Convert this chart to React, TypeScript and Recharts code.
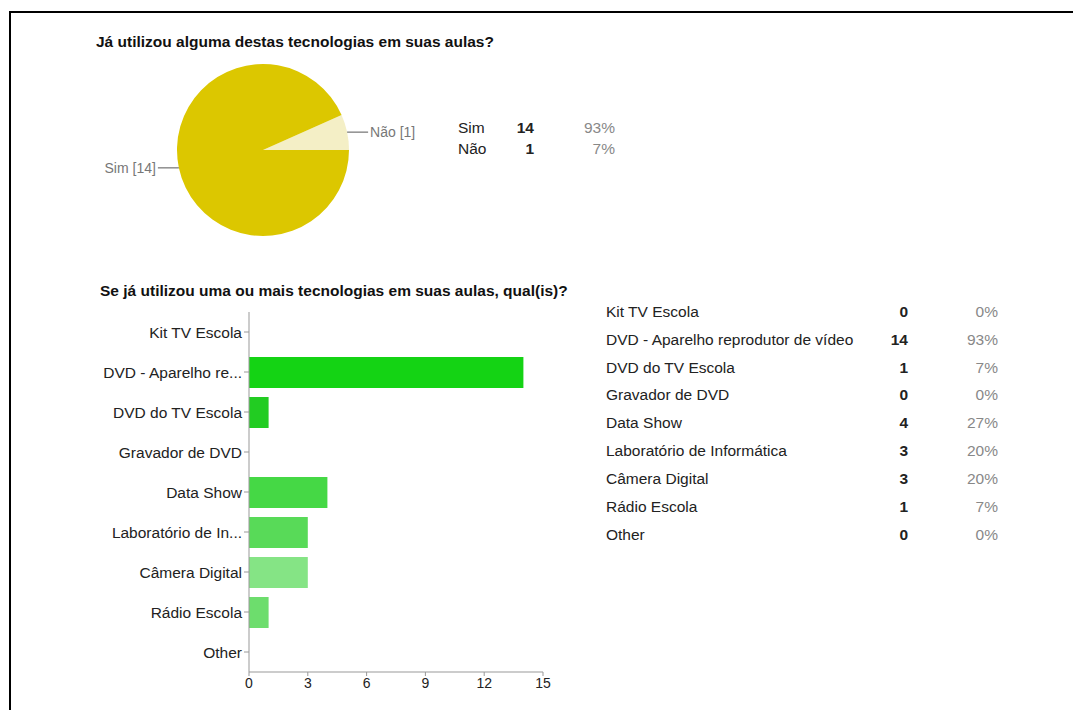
import React from 'react'
import { PieChart, Pie, Cell, BarChart, Bar, XAxis, YAxis } from 'recharts'

const FONT = "Arial, 'Liberation Sans', sans-serif"

// first question (pie)
const PIE_NAMES = ['Não', 'Sim']
const PIE_VALUES = [1, 14]
const PIE_COLORS = ['#f4efc6', '#dcc700']
const PIE_LEGEND_ORDER = [1, 0]

// second question (bars + table)
const TECH_NAMES = [
  'Kit TV Escola',
  'DVD - Aparelho reprodutor de vídeo',
  'DVD do TV Escola',
  'Gravador de DVD',
  'Data Show',
  'Laboratório de Informática',
  'Câmera Digital',
  'Rádio Escola',
  'Other',
]
const TECH_AXIS_LABELS = [
  'Kit TV Escola',
  'DVD - Aparelho re...',
  'DVD do TV Escola',
  'Gravador de DVD',
  'Data Show',
  'Laboratório de In...',
  'Câmera Digital',
  'Rádio Escola',
  'Other',
]
const TECH_VALUES = [0, 14, 1, 0, 4, 3, 3, 1, 0]
const TECH_COLORS = ['#0fd10f', '#14d314', '#22cc22', '#33d233', '#45d845', '#58da58', '#85e485', '#6ddd6d', '#7fe07f']
const X_TICKS = [0, 3, 6, 9, 12, 15]

const RESPONDENTS = PIE_VALUES.reduce((s, v) => s + v, 0)
const pct = (v: number) => `${Math.round((v / RESPONDENTS) * 100)}%`

const pieData = PIE_NAMES.map((name, i) => ({ name, value: PIE_VALUES[i], color: PIE_COLORS[i] }))
const barData = TECH_NAMES.map((name, i) => ({
  name,
  label: TECH_AXIS_LABELS[i],
  value: TECH_VALUES[i],
  color: TECH_COLORS[i],
}))

const RAD = Math.PI / 180

function PieLabel(props: any) {
  const { cx, cy, midAngle, outerRadius, name, value } = props
  const c = Math.cos(-midAngle * RAD)
  const s = Math.sin(-midAngle * RAD)
  const x = cx + outerRadius * c
  const y = cy + outerRadius * s
  const side = c >= 0 ? 1 : -1
  return (
    <g>
      <line x1={x} y1={y} x2={x + side * 21} y2={y} stroke="#555" strokeWidth={1} />
      <text
        x={x + side * 23}
        y={y}
        dy="0.35em"
        textAnchor={side > 0 ? 'start' : 'end'}
        fontSize={14}
        fontFamily={FONT}
        fill="#777"
      >
        {`${name} [${value}]`}
      </text>
    </g>
  )
}

const title: React.CSSProperties = {
  position: 'absolute',
  fontFamily: FONT,
  fontWeight: 'bold',
  fontSize: 15.5,
  color: '#111',
  lineHeight: '18px',
  whiteSpace: 'nowrap',
}

export default function App() {
  return (
    <div style={{ position: 'absolute', left: 0, top: 0, width: 1073, height: 710, background: '#fff', overflow: 'hidden' }}>
      <div
        style={{
          position: 'absolute',
          left: 9,
          top: 11,
          width: 1100,
          height: 720,
          borderTop: '2px solid #000',
          borderLeft: '2px solid #000',
        }}
      />

      <div style={{ ...title, left: 96, top: 33 }}>Já utilizou alguma destas tecnologias em suas aulas?</div>

      <div style={{ position: 'absolute', left: 63, top: 50 }}>
        <PieChart width={400} height={200} margin={{ top: 0, right: 0, bottom: 0, left: 0 }}>
          <Pie
            data={pieData}
            dataKey="value"
            cx={200}
            cy={100}
            outerRadius={86}
            startAngle={0}
            endAngle={360}
            stroke="none"
            label={PieLabel}
            labelLine={false}
            isAnimationActive={false}
          >
            {pieData.map((d, i) => (
              <Cell key={i} fill={d.color} />
            ))}
          </Pie>
        </PieChart>
      </div>

      {PIE_LEGEND_ORDER.map((idx, row) => (
        <div key={idx} style={{ position: 'absolute', left: 0, top: 118 + row * 21, height: 20, fontFamily: FONT, fontSize: 15.5, lineHeight: '20px' }}>
          <span style={{ position: 'absolute', left: 458, color: '#222' }}>{PIE_NAMES[idx]}</span>
          <span style={{ position: 'absolute', right: -534, fontWeight: 'bold', color: '#222' }}>{PIE_VALUES[idx]}</span>
          <span style={{ position: 'absolute', right: -615, color: '#888' }}>{pct(PIE_VALUES[idx])}</span>
        </div>
      ))}

      <div style={{ ...title, left: 100, top: 282 }}>Se já utilizou uma ou mais tecnologias em suas aulas, qual(is)?</div>

      <div style={{ position: 'absolute', left: 0, top: 290 }}>
        <BarChart
          width={600}
          height={410}
          data={barData}
          layout="vertical"
          margin={{ top: 22, right: 57, bottom: 0, left: 0 }}
        >
          <XAxis
            type="number"
            domain={[0, 15]}
            ticks={X_TICKS}
            height={28}
            tickSize={4}
            axisLine={{ stroke: '#999' }}
            tickLine={{ stroke: '#999' }}
            tick={{ fontSize: 14, fontFamily: FONT, fill: '#222' }}
          />
          <YAxis
            type="category"
            dataKey="label"
            width={249}
            interval={0}
            tickSize={5}
            axisLine={{ stroke: '#999' }}
            tickLine={{ stroke: '#999' }}
            tick={{ fontSize: 15.5, fontFamily: FONT, fill: '#222' }}
          />
          <Bar dataKey="value" barSize={31} isAnimationActive={false}>
            {barData.map((d, i) => (
              <Cell key={i} fill={d.color} />
            ))}
          </Bar>
        </BarChart>
      </div>

      {TECH_NAMES.map((name, i) => (
        <div key={name} style={{ position: 'absolute', left: 0, top: 301.7 + i * 27.9, height: 20, fontFamily: FONT, fontSize: 15.5, lineHeight: '20px', whiteSpace: 'nowrap' }}>
          <span style={{ position: 'absolute', left: 606, color: '#222' }}>{name}</span>
          <span style={{ position: 'absolute', right: -908, fontWeight: 'bold', color: '#222' }}>{TECH_VALUES[i]}</span>
          <span style={{ position: 'absolute', right: -998, color: '#888' }}>{pct(TECH_VALUES[i])}</span>
        </div>
      ))}
    </div>
  )
}
